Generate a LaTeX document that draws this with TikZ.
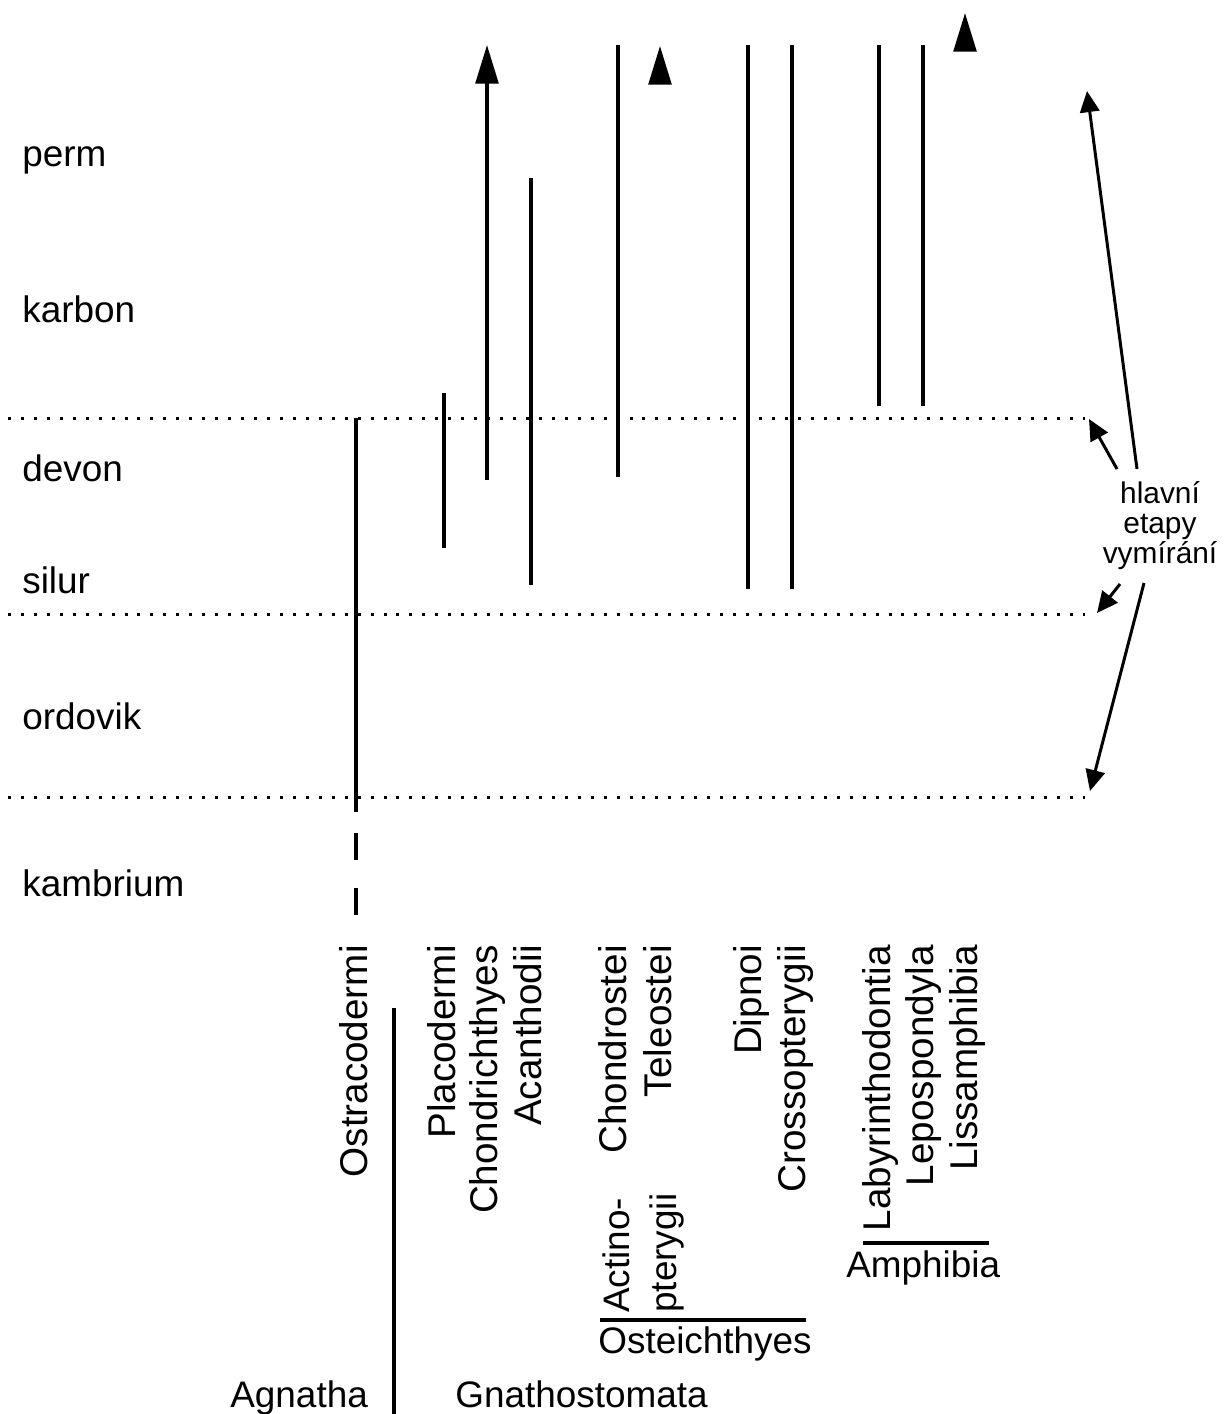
\documentclass[tikz,border=0pt]{standalone}
\usepackage{fontspec}
\setmainfont{Liberation Sans}
\usetikzlibrary{arrows.meta}

\begin{document}
\begin{tikzpicture}[
    x=0.02cm, y=-0.02cm,
    period/.style={anchor=base west, inner sep=0pt, font=\fontsize{21}{25}\selectfont},
    taxon/.style={rotate=90, anchor=base east, inner sep=0pt, font=\fontsize{22}{26}\selectfont},
    group/.style={anchor=base west, inner sep=0pt, font=\fontsize{21}{25}\selectfont},
    stratline/.style={line width=1.8pt},
    survive/.style={line width=1.8pt, -{Triangle[length=22pt, width=13pt]}},
    boundary/.style={line width=1.7pt, dash pattern=on 1.7pt off 5.67pt},
    extinct/.style={line width=1.7pt, -{Triangle[length=12pt, width=11pt]}}
]
\useasboundingbox (0,0) rectangle (1224,1414);

% periods
\node[period] (perm) at (22,166) {perm};
\node[period] (karbon) at (22,322) {karbon};
\node[period] (devon) at (22,481) {devon};
\node[period] (silur) at (22,593) {silur};
\node[period] (ordovik) at (22,729) {ordovik};
\node[period] (kambrium) at (22,896) {kambrium};

% period boundaries
\coordinate (kd-w) at (8,418);  \coordinate (kd-e) at (1085,418);
\coordinate (so-w) at (8,614);  \coordinate (so-e) at (1085,614);
\coordinate (ok-w) at (8,797);  \coordinate (ok-e) at (1085,797);
\draw[boundary] (kd-w) -- (kd-e);
\draw[boundary] (so-w) -- (so-e);
\draw[boundary] (ok-w) -- (ok-e);

% taxa
\node[taxon] (ostra) at (367,945) {Ostracodermi};
\node[taxon] (placo) at (455,945) {Placodermi};
\node[taxon] (chondri) at (497,945) {Chondrichthyes};
\node[taxon] (acanth) at (541,945) {Acanthodii};
\node[taxon] (chondro) at (626,945) {Chondrostei};
\node[taxon] (teleo) at (671,945) {Teleostei};
\node[taxon] (dipnoi) at (761,945) {Dipnoi};
\node[taxon] (crosso) at (805,945) {Crossopterygii};
\node[taxon] (labyr) at (890,945) {Labyrinthodontia};
\node[taxon] (lepos) at (933,945) {Lepospondyla};
\node[taxon] (lissa) at (977,945) {Lissamphibia};

% ranges
\coordinate (ostra-t) at (356,418);  \coordinate (ostra-b) at (356,812);
\coordinate (ostra-d1) at (356,833); \coordinate (ostra-d2) at (356,915);
\coordinate (placo-t) at (444,393);  \coordinate (placo-b) at (444,548);
\coordinate (chondri-t) at (487,45); \coordinate (chondri-b) at (487,480);
\coordinate (acanth-t) at (531,178); \coordinate (acanth-b) at (531,585);
\coordinate (chondro-t) at (618,45); \coordinate (chondro-b) at (618,477);
\coordinate (teleo-t) at (660,46);   \coordinate (teleo-b) at (660,76);
\coordinate (dipnoi-t) at (748,45);  \coordinate (dipnoi-b) at (748,589);
\coordinate (crosso-t) at (792,45);  \coordinate (crosso-b) at (792,589);
\coordinate (labyr-t) at (879,45);   \coordinate (labyr-b) at (879,406);
\coordinate (lepos-t) at (923,45);   \coordinate (lepos-b) at (923,406);
\coordinate (lissa-t) at (965,13);   \coordinate (lissa-b) at (965,43);

\draw[stratline] (ostra-t) -- (ostra-b);
\draw[stratline, dash pattern=on 15.3pt off 15.9pt] (ostra-d1) -- (ostra-d2);
\draw[stratline] (placo-t) -- (placo-b);
\draw[survive] (chondri-b) -- (chondri-t);
\draw[stratline] (acanth-t) -- (acanth-b);
\draw[stratline] (chondro-t) -- (chondro-b);
\draw[survive] (teleo-b) -- (teleo-t);
\draw[stratline] (dipnoi-t) -- (dipnoi-b);
\draw[stratline] (crosso-t) -- (crosso-b);
\draw[stratline] (labyr-t) -- (labyr-b);
\draw[stratline] (lepos-t) -- (lepos-b);
\draw[survive] (lissa-b) -- (lissa-t);

% groups
\node[taxon, anchor=north west, align=left, font=\fontsize{21}{27}\selectfont] (actino) at (602,1313) {Actino-\\pterygii};
\coordinate (ost-w) at (600,1320); \coordinate (ost-e) at (806,1320);
\draw[stratline] (ost-w) -- (ost-e);
\node[group] (osteich) at (598,1353) {Osteichthyes};
\coordinate (amph-w) at (863,1243); \coordinate (amph-e) at (989,1243);
\draw[stratline] (amph-w) -- (amph-e);
\node[group] (amphibia) at (846,1277) {Amphibia};
\node[group] (agnatha) at (230,1407) {Agnatha};
\node[group] (gnatho) at (455,1407) {Gnathostomata};
\coordinate (split-t) at (394,1008); \coordinate (split-b) at (394,1414);
\draw[stratline] (split-t) -- (split-b);

% extinctions
\node[anchor=north, inner sep=0pt, align=center, font=\fontsize{17}{17}\selectfont] (etapy) at (1160,481) {hlavní\\etapy\\vymírání};
\coordinate (e1) at (1137,469); \coordinate (e2) at (1117,469);
\coordinate (e3) at (1120,584); \coordinate (e4) at (1144,583);
\coordinate (pt-top) at (1087,91);
\coordinate (kd-tip) at (1089,419);
\coordinate (so-tip) at (1097,613);
\coordinate (ok-tip) at (1090,791);
\draw[extinct] (e1) -- (pt-top);
\draw[extinct] (e2) -- (kd-tip);
\draw[extinct] (e3) -- (so-tip);
\draw[extinct] (e4) -- (ok-tip);
\end{tikzpicture}
\end{document}
